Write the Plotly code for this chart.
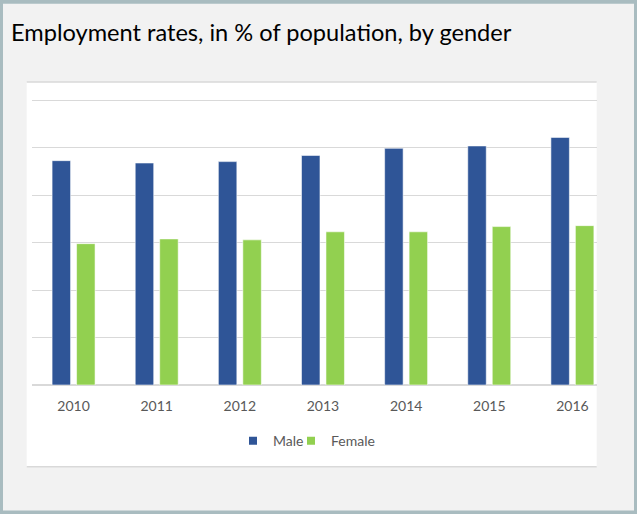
import plotly.graph_objects as go

years = ["2010", "2011", "2012", "2013", "2014", "2015", "2016"]
male = [47.3, 46.8, 47.1, 48.4, 49.9, 50.4, 52.2]
female = [29.8, 30.8, 30.6, 32.3, 32.3, 33.4, 33.6]

MALE_C = "#2F5597"
FEMALE_C = "#92D050"
FONT = "Lato"

W, H = 637, 514
YMAX, YTOP = 60.3, 60
L, R = 32, 597            # plot area pixel edges (x)
B = 385.3                 # baseline pixel
UNIT = (B - 100) / YTOP   # px per unit, 60 sits at y=100
T = B - YMAX * UNIT
PW, PH = R - L, B - T


def px(x):
    return (x - L) / PW


def py(y):
    return (B - y) / PH


fig = go.Figure()
fig.add_trace(go.Bar(x=years, y=male, name="Male",
                     marker=dict(color=MALE_C, line=dict(color="rgba(255,255,255,0.55)", width=1)),
                     showlegend=False))
fig.add_trace(go.Bar(x=years, y=female, name="Female",
                     marker=dict(color=FEMALE_C, line=dict(color="rgba(255,255,255,0.55)", width=1)),
                     showlegend=False))
# legend entries with small square markers (one legend box each, to control spacing)
fig.add_trace(go.Scatter(x=[None], y=[None], mode="markers", name="Male", legend="legend",
                         marker=dict(symbol="square", size=8, color=MALE_C)))
fig.add_trace(go.Scatter(x=[None], y=[None], mode="markers", name="Female", legend="legend2",
                         marker=dict(symbol="square", size=8, color=FEMALE_C)))

shapes = [
    dict(type="rect", xref="paper", yref="paper", x0=px(3), x1=px(634), y0=py(511), y1=py(3),
         fillcolor="#F2F2F2", line=dict(width=0), layer="below"),
    dict(type="rect", xref="paper", yref="paper", x0=px(26.7), x1=px(596.7), y0=py(467.3), y1=py(81.5),
         fillcolor="white", line=dict(width=0), layer="below"),
    dict(type="line", xref="paper", yref="paper", x0=px(26.7), x1=px(596.7), y0=py(81.5), y1=py(81.5),
         line=dict(color="#D9D9D9", width=1.5), layer="below"),
    dict(type="line", xref="paper", yref="paper", x0=px(26.7), x1=px(596.7), y0=py(467.3), y1=py(467.3),
         line=dict(color="#D9D9D9", width=1.5), layer="below"),
]

legend_common = dict(orientation="h", xanchor="left", yanchor="middle", y=py(441.7),
                     bgcolor="rgba(0,0,0,0)", font=dict(size=14, color="#595959"), itemwidth=30)

fig.update_layout(
    width=W, height=H,
    margin=dict(l=L, r=W - R, t=T, b=H - B, pad=0),
    paper_bgcolor="#A9BCC0",
    plot_bgcolor="white",
    barmode="group", bargap=0.411, bargroupgap=0.245,
    font=dict(family=FONT, color="#595959", size=14),
    shapes=shapes,
    annotations=[dict(text="Employment rates, in % of population, by gender", xref="paper", yref="paper",
                      x=px(9), y=py(31), xanchor="left", yanchor="middle", showarrow=False,
                      font=dict(family=FONT, size=23.6, color="#000000"))],
    legend=dict(x=px(233), **legend_common),
    legend2=dict(x=px(291), **legend_common),
    xaxis=dict(type="category", range=[-0.5, 6.296], showgrid=False, zeroline=False, showline=False,
               ticks="outside", ticklen=8, tickcolor="rgba(0,0,0,0)",
               tickfont=dict(size=14, color="#595959")),
    yaxis=dict(range=[0, YMAX], dtick=10, showgrid=True, gridcolor="#D9D9D9", gridwidth=1,
               zeroline=True, zerolinecolor="#D9D9D9", zerolinewidth=1.5,
               showticklabels=False, showline=False),
)

fig.write_html("out.html", config={"displayModeBar": False},
               post_script="document.body.style.margin='0';document.body.style.padding='0';")
